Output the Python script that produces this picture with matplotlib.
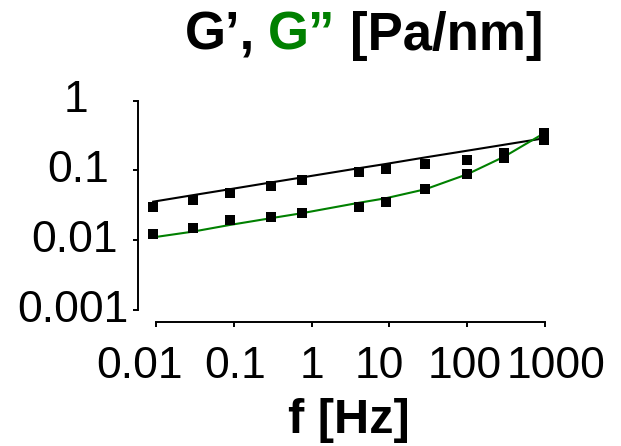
import matplotlib
matplotlib.use("Agg")
import matplotlib.pyplot as plt
from matplotlib.ticker import NullLocator
from matplotlib.transforms import ScaledTranslation

plt.rcParams['font.family'] = ['Liberation Sans', 'DejaVu Sans']

# ---- data ----
freq = [0.0092, 0.03, 0.09, 0.3, 0.75, 4.1, 9.0, 29, 100, 300, 970]
g_storage = [0.0297, 0.0378, 0.0471, 0.060, 0.0731, 0.0942, 0.105, 0.123, 0.141, 0.176, 0.273]
g_loss = [0.0123, 0.0152, 0.0195, 0.0216, 0.0244, 0.0297, 0.0357, 0.0538, 0.0882, 0.150, 0.341]
fit_storage = [0.0357, 0.0443, 0.054, 0.0673, 0.0794, 0.108, 0.124, 0.154, 0.192, 0.234, 0.289]
fit_loss = [0.0110, 0.0133, 0.0166, 0.0207, 0.0244, 0.0345, 0.040, 0.0538, 0.0882, 0.158, 0.341]

x_ticks = [0.01, 0.1, 1, 10, 100, 1000]
x_tick_labels = ['0.01', '0.1', '1', '10', '100', '1000']
y_ticks = [0.001, 0.01, 0.1, 1]
y_tick_labels = ['0.001', '0.01', '0.1', '1']

GREEN = '#008000'

W, H = 621, 446
fig = plt.figure(figsize=(W / 100, H / 100), dpi=100)
ax = fig.add_axes([156 / W, 1 - 310 / H, (545 - 156) / W, (310 - 100.7) / H])
ax.set_xscale('log')
ax.set_yscale('log')
ax.set_xlim(0.01, 1000)
ax.set_ylim(0.001, 1)

ax.plot(freq, fit_storage, color='black', lw=1.5, clip_on=False, zorder=2)
ax.plot(freq, fit_loss, color=GREEN, lw=1.5, clip_on=False, zorder=2)
ax.plot(freq, g_storage, 's', color='black', ms=6.8, mew=0, clip_on=False, zorder=3)
ax.plot(freq, g_loss, 's', color='black', ms=6.8, mew=0, clip_on=False, zorder=3)

for s in ['top', 'right']:
    ax.spines[s].set_visible(False)
ax.spines['left'].set_position(('outward', 18 * 0.72))
ax.spines['bottom'].set_position(('outward', 12.3 * 0.72))
for s in ['left', 'bottom']:
    ax.spines[s].set_linewidth(1.4)

ax.xaxis.set_minor_locator(NullLocator())
ax.yaxis.set_minor_locator(NullLocator())
ax.set_xticks(x_ticks, labels=x_tick_labels)
ax.set_yticks(y_ticks, labels=y_tick_labels)
ax.tick_params(which='major', direction='out', length=3.8, width=1.4,
               labelsize=32, colors='black')
ax.tick_params(axis='x', pad=13.3)
ax.tick_params(axis='y', pad=41)

x_offsets = [-16, 1, 0, -10, -3, 11]
for lab, dx in zip(ax.get_xticklabels(), x_offsets):
    lab.set_transform(lab.get_transform() + ScaledTranslation(dx / 100, 0, fig.dpi_scale_trans))
y_offsets = [-3, -1, 2, 0]
for lab, dx in zip(ax.get_yticklabels(), y_offsets):
    lab.set_ha('center')
    lab.set_va('center')
    lab.set_transform(lab.get_transform() + ScaledTranslation(dx / 100, 0, fig.dpi_scale_trans))

# title in three colour segments
ty = 1 - 50 / H
fs_t = 38
fig.text(184.5 / W, ty, 'G\u2019,', fontsize=fs_t, fontweight='bold', color='black',
         ha='left', va='baseline')
fig.text(267.8 / W, ty, 'G\u201d', fontsize=fs_t, fontweight='bold', color=GREEN,
         ha='left', va='baseline')
fig.text(350.5 / W, ty, '[Pa/nm]', fontsize=fs_t, fontweight='bold', color='black',
         ha='left', va='baseline')

fig.text(349 / W, 1 - 432.7 / H, 'f [Hz]', fontsize=35, fontweight='bold',
         ha='center', va='baseline')

fig.savefig('out.png', dpi=100)
